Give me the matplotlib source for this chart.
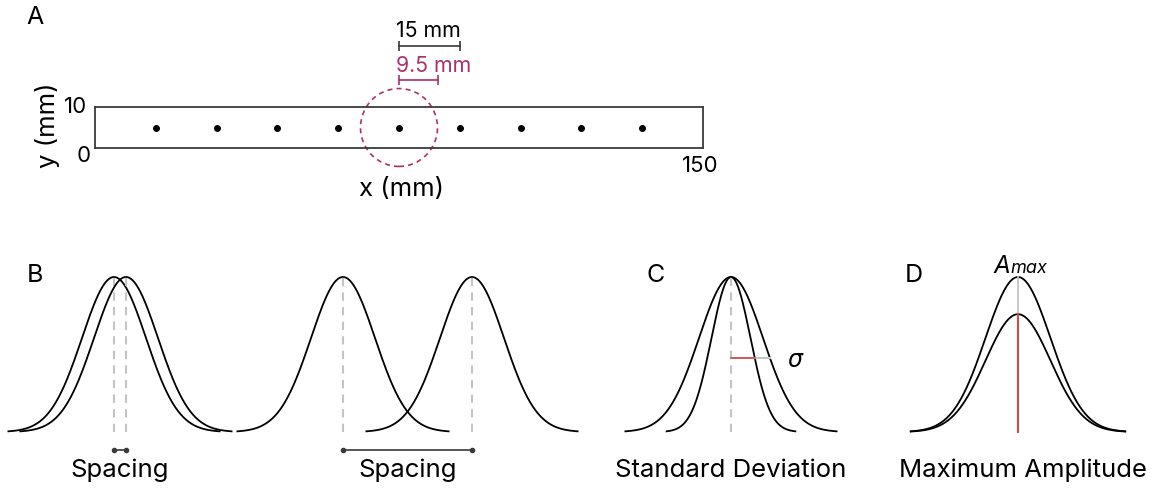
import matplotlib.pyplot as plt
import numpy as np
from matplotlib.patches import Circle

plt.rcParams['font.family'] = ['Inter', 'DejaVu Sans']

# panel A: electrode strip (mm)
strip_len = 150
strip_width = 10
electrode_x = [15, 30, 45, 60, 75, 90, 105, 120, 135]
electrode_y = [5, 5, 5, 5, 5, 5, 5, 5, 5]
spacing_mm = 15
radius_mm = 9.5

# panels B-D: gaussian profiles (arbitrary units)
b_close_centers = [11.4, 12.6]
b_far_centers = [34.3, 47.2]
b_sigma = 3.2
c_center = 73.1
c_sigmas = [1.95, 3.2]
c_sigma_level = 0.48
d_center = 101.8
d_sigma = 3.25
d_amps = [1.0, 0.76]

MAGENTA = '#ad2f6c'
DARK = '#3a3a3a'
GREY = '#c4c4c4'
RED = '#cf4a4a'
LABEL_FS = 18.5


def gauss(c, s, a=1.0, span=3.3):
    x = np.linspace(c - span * s, c + span * s, 300)
    return x, a * np.exp(-0.5 * ((x - c) / s) ** 2)


fig = plt.figure(figsize=(11.51, 4.89), dpi=100)

# ---- panel A ----
axA = fig.add_axes([95 / 1151, 1 - 149 / 489, 608 / 1151, 41 / 489])
axA.set_xlim(0, strip_len)
axA.set_ylim(0, strip_width)
axA.set_xticks([])
axA.set_yticks([])
for sp in axA.spines.values():
    sp.set_color(DARK)
    sp.set_linewidth(1.3)
axA.plot(electrode_x, electrode_y, 'o', color='black', ms=4)

mid = electrode_x[4]
axA.add_patch(Circle((mid, 5), radius_mm, fill=False, ec=MAGENTA, lw=1.2,
                     ls=(0, (3, 2.5)), clip_on=False))

# scale bars
axA.plot([mid, mid + spacing_mm], [24.8, 24.8], color=DARK, lw=1.2,
         marker='|', ms=7, mew=1.2, clip_on=False)
axA.text(mid + 7.3, 28.8, '15 mm', fontsize=15.3, ha='center', va='center')
axA.plot([mid, mid + radius_mm], [16.7, 16.7], color=MAGENTA, lw=1.2,
         marker='|', ms=7, mew=1.2, clip_on=False)
axA.text(mid + 8.5, 20.2, '9.5 mm', fontsize=15.3, ha='center', va='center',
         color=MAGENTA)

axA.text(-4.9, 10.2, '10', fontsize=16, ha='center', va='center')
axA.text(-2.7, -1.7, '0', fontsize=16, ha='center', va='center')
axA.text(149.3, -4.1, '150', fontsize=16, ha='center', va='center')
axA.text(75.7, -10.0, 'x (mm)', fontsize=LABEL_FS, ha='center', va='center')
axA.text(-11.8, 5.9, 'y (mm)', fontsize=LABEL_FS, ha='center', va='center',
         rotation=90)
axA.text(-14.8, 32, 'A', fontsize=18, ha='center', va='center')

# ---- panels B, C, D ----
ax = fig.add_axes([0, 0, 1, 239 / 489])
ax.set_xlim(0, 115.1)
ax.set_ylim(-56 / 155, 183 / 155)
ax.axis('off')

# B: close and far spacing
for centers in (b_close_centers, b_far_centers):
    for c in centers:
        x, y = gauss(c, b_sigma)
        ax.plot(x, y, color='black', lw=1.3)
        ax.plot([c, c], [0, 1], color=GREY, lw=1.5, ls=(0, (4, 3)))
    ax.plot(centers, [-0.116, -0.116], color=DARK, lw=1.2, marker='o', ms=3)
    ax.text(np.mean(centers), -0.239, 'Spacing', fontsize=LABEL_FS,
            ha='center', va='center')

# C: standard deviation
for s in c_sigmas:
    x, y = gauss(c_center, s)
    ax.plot(x, y, color='black', lw=1.3)
ax.plot([c_center, c_center], [0, 1], color=GREY, lw=1.5, ls=(0, (4, 3)))
half = np.sqrt(-2 * np.log(c_sigma_level))
ax.plot([c_center, c_center + c_sigmas[1] * half], [c_sigma_level] * 2,
        color=GREY, lw=1.5)
ax.plot([c_center, c_center + c_sigmas[0] * half], [c_sigma_level] * 2,
        color=RED, lw=1.2)
ax.text(79.5, 0.47, 'σ', fontsize=17, ha='center', va='center',
        style='italic', family='DejaVu Sans')
ax.text(c_center, -0.239, 'Standard Deviation', fontsize=LABEL_FS,
        ha='center', va='center')

# D: maximum amplitude
for a in d_amps:
    x, y = gauss(d_center, d_sigma, a)
    ax.plot(x, y, color='black', lw=1.3)
ax.plot([d_center, d_center], [d_amps[1], d_amps[0]], color=GREY, lw=1.3)
ax.plot([d_center, d_center], [0, d_amps[1]], color=RED, lw=1.5)
ax.text(101.0, 1.032, 'A', fontsize=17.5, ha='right', va='baseline',
        style='italic')
ax.text(101.0, 1.032, 'max', fontsize=13, ha='left',
        va='baseline', style='italic')
ax.text(102.3, -0.239, 'Maximum Amplitude', fontsize=LABEL_FS,
        ha='center', va='center')

# panel letters
ax.text(3.5, 1.013, 'B', fontsize=18, ha='center', va='center')
ax.text(65.6, 1.013, 'C', fontsize=18, ha='center', va='center')
ax.text(91.4, 1.013, 'D', fontsize=18, ha='center', va='center')

fig.savefig('out.png', dpi=100)
